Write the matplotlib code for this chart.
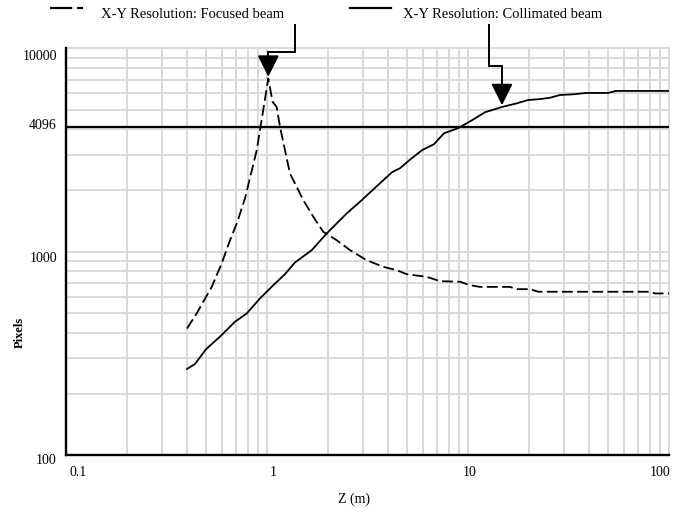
import matplotlib
matplotlib.use("Agg")
import matplotlib.pyplot as plt
import matplotlib.transforms as mtransforms
from matplotlib.lines import Line2D
import numpy as np

plt.rcParams['font.family'] = ['Liberation Serif', 'DejaVu Serif']

# X-Y resolution, focused beam
x_focused = [0.40, 0.447, 0.482, 0.531, 0.595, 0.655, 0.712, 0.777, 0.889, 1.015,
             1.067, 1.117, 1.161, 1.301, 1.515, 1.70, 1.906, 2.22, 2.59, 3.13,
             3.79, 4.42, 4.95, 6.23, 7.26, 9.12, 10.23, 11.48, 16.18, 17.47,
             20.3, 22.4, 80.0, 85.0, 100.0]
y_focused = [419, 497, 567, 671, 875, 1139, 1401, 1826, 3154, 7100,
             5449, 5146, 4105, 2423, 1791, 1483, 1251, 1139, 1017, 908,
             842, 811, 775, 752, 716, 711, 684, 671, 671, 654,
             654, 635, 635, 623, 623]

# X-Y resolution, collimated beam
x_collimated = [0.40, 0.438, 0.497, 0.595, 0.693, 0.793, 0.923, 1.075, 1.229, 1.378,
                1.669, 1.982, 2.49, 2.96, 3.65, 4.19, 4.59, 5.14, 5.90, 6.77,
                7.60, 8.92, 10.47, 12.15, 14.76, 17.33, 19.89, 22.8, 25.6, 28.7,
                33.7, 38.6, 49.7, 54.5, 100.0]
y_collimated = [265, 280, 331, 389, 452, 497, 589, 684, 775, 885,
                1017, 1229, 1541, 1791, 2171, 2459, 2572, 2832, 3154, 3375,
                3822, 4045, 4429, 4848, 5146, 5349, 5567, 5627, 5712, 5895,
                5943, 6031, 6031, 6173, 6173]

limit_value = 4096
y_ticks = [100, 1000, 4096, 10000]
y_tick_labels = ['100', '1000', '4096', '10000']
x_ticks = [0.1, 1, 10, 100]
x_tick_labels = ['0.1', '1', '10', '100']

W, H = 677, 512
fig = plt.figure(figsize=(W / 100, H / 100), dpi=100)
ax = fig.add_axes([66 / W, 1 - 455 / H, (669 - 66) / W, (455 - 48.3) / H])

def fx(px):
    return px / W

def fy(py):
    return 1 - py / H

grid_col = '#d9d9d9'
ax.set_xscale('log')
ax.set_yscale('log')
ax.set_xlim(0.1, 100)
ax.set_ylim(100, 10000)

ax.grid(True, which='both', color=grid_col, lw=1.4)
ax.set_axisbelow(True)

ax.set_xticks(x_ticks)
ax.set_xticklabels(x_tick_labels)
ax.set_yticks(y_ticks)
ax.set_yticklabels(y_tick_labels)
ax.yaxis.set_minor_formatter(matplotlib.ticker.NullFormatter())
ax.xaxis.set_minor_formatter(matplotlib.ticker.NullFormatter())
ax.tick_params(which='both', length=0, labelsize=10)
ax.tick_params(axis='x', pad=8)
ax.tick_params(axis='y', pad=6.5)

for s in ['left', 'bottom']:
    ax.spines[s].set_color('black')
    ax.spines[s].set_linewidth(1.7)
    ax.spines[s].set_zorder(5)
for s in ['top', 'right']:
    ax.spines[s].set_color(grid_col)
    ax.spines[s].set_linewidth(1.4)

ax.axhline(limit_value, color='black', lw=1.6, zorder=3)
ax.plot(x_focused, y_focused, color='black', lw=1.3, ls=(0, (6, 2.4)), zorder=4)
ax.plot(x_collimated, y_collimated, color='black', lw=1.3, zorder=4)

# tick label nudges (pixels, + is down)
for lab, dy in zip(ax.get_yticklabels(), [4, 5, -3, 7]):
    lab.set_transform(lab.get_transform() + mtransforms.ScaledTranslation(0, -dy / 100, fig.dpi_scale_trans))
xl = ax.get_xticklabels()
xl[0].set_horizontalalignment('left')
xl[-1].set_horizontalalignment('right')
for lab, dx in zip(xl, [3, 6, 2, 1]):
    lab.set_transform(lab.get_transform() + mtransforms.ScaledTranslation(dx / 100, 0, fig.dpi_scale_trans))

# axis titles
fig.text(fx(354), fy(499), 'Z (m)', ha='center', va='center', fontsize=10)
fig.text(fx(20), fy(332), 'Pixels', ha='center', va='center', rotation=90,
         fontsize=9, fontweight='bold')

# legend across the top
fig.add_artist(Line2D([fx(50), fx(83)], [fy(8), fy(8)], color='black', lw=1.6,
                      ls=(0, (10, 2.2))))
fig.text(fx(101), fy(14), 'X-Y Resolution: Focused beam', ha='left', va='center', fontsize=10.5)
fig.add_artist(Line2D([fx(350), fx(391)], [fy(8), fy(8)], color='black', lw=1.6))
fig.text(fx(403), fy(14), 'X-Y Resolution: Collimated beam', ha='left', va='center', fontsize=10.5)

# elbow arrows from the legend down to the curves
i_peak = int(np.argmax(y_focused))
tip1 = (x_focused[i_peak], y_focused[i_peak])
tip2 = (x_collimated[24], y_collimated[24])
arrows = [(tip1, 1.373, 9597, 8566), (tip2, 12.76, 8177, 6174)]
for (tx, ty), xv, ybend, yhead in arrows:
    ax.plot([xv, xv, tx, tx], [12970, ybend, ybend, yhead], color='black', lw=1.4,
            clip_on=False, zorder=6, solid_joinstyle='miter')
    ax.annotate('', xy=(tx, ty * 1.02), xytext=(tx, yhead), annotation_clip=False,
                arrowprops=dict(arrowstyle='-|>,head_length=1.1,head_width=0.55',
                                mutation_scale=12, color='black', lw=1.4,
                                shrinkA=0, shrinkB=0), zorder=6)

fig.savefig('out.png', dpi=100)
